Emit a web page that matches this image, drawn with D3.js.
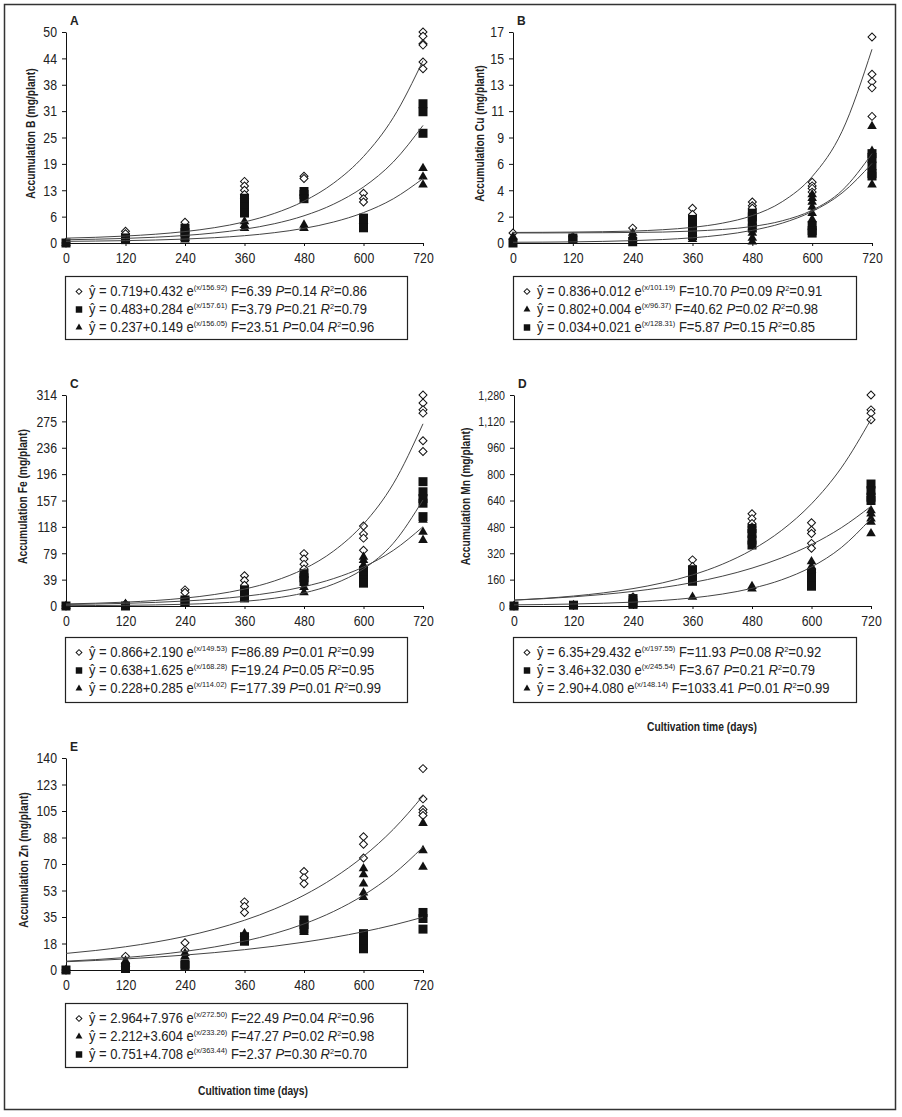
<!DOCTYPE html>
<html>
<head>
<meta charset="utf-8">
<script src="https://cdn.jsdelivr.net/npm/d3@7"></script>
<style>
body { margin: 0; background: #fff; }
svg text { font-family: "Liberation Sans", Arial, sans-serif; fill: #222; }
</style>
</head>
<body>
<svg id="fig" width="902" height="1117"></svg>
<script>
// sampling days and the days where the fitted curves are read
var days = [0, 120, 240, 360, 480, 600, 720];
var fitDays = [0, 60, 120, 180, 240, 300, 360, 420, 480, 540, 600, 660, 720];

// A - boron
var aTicks = ["0", "6", "13", "19", "25", "31", "38", "44", "50"];
var aDiamond = [[0], [2.8, 2.2], [4.9], [14.6, 13.5, 12.5, 11.5, 10.5], [15.8, 15.3], [11.8, 10.5, 9.7], [50, 49, 47.2, 46.9, 42.9, 41.3]];
var aSquare = [[0], [1.2, 0.8], [3.5, 2.5, 1.5], [10.6, 9.5, 8.5, 7.1], [12.2, 11.5, 10.5], [5.9, 4.6, 3.6], [33, 31.1, 26]];
var aTriangle = [[0], [0.9, 0.5], [1.2, 0.8], [5.1, 4.2, 3.5], [4.3, 3.5], [5.2], [17.7, 15.7, 13.8]];
var aDiamondFit = [1.15, 1.35, 1.65, 2.08, 2.71, 3.64, 5.00, 7.00, 9.92, 14.21, 20.49, 29.70, 43.20];
var aSquareFit = [0.77, 0.90, 1.09, 1.37, 1.79, 2.39, 3.27, 4.56, 6.45, 9.22, 13.27, 19.19, 27.86];
var aTriangleFit = [0.39, 0.46, 0.56, 0.71, 0.93, 1.26, 1.73, 2.44, 3.47, 4.98, 7.20, 10.47, 15.27];
var aLegend = [
  ["diamond", "0.719+0.432", "156.92", "6.39", "0.14", "0.86"],
  ["square", "0.483+0.284", "157.61", "3.79", "0.21", "0.79"],
  ["triangle", "0.237+0.149", "156.05", "23.51", "0.04", "0.96"]
];

// B - copper
var bTicks = ["0", "2", "4", "6", "9", "11", "13", "15", "17"];
var bDiamond = [[0.8], [0.5], [1.2], [2.8, 2.3], [3.3, 3.0, 2.8], [4.9, 4.6, 4.4, 4.1], [16.6, 13.6, 13.0, 12.5, 10.2]];
var bTriangle = [[0.5], [0.3], [0.8, 0.6, 0.3], [0.8, 0.3], [1.3, 0.8, 0.4, 0.1], [3.9, 3.6, 3.3, 2.9, 2.4, 1.9], [9.4, 7.4, 4.7]];
var bSquare = [[0], [0.4, 0.3], [0.1], [1.9, 1.5, 1.2, 0.9, 0.6], [2.4, 2.1, 1.7, 1.2], [1.4, 1.0, 0.8], [7.2, 6.8, 6.2, 5.6, 5.4]];
var bDiamondFit = [0.85, 0.86, 0.88, 0.91, 0.96, 1.07, 1.26, 1.60, 2.21, 3.33, 5.35, 9.00, 15.61];
var bTriangleFit = [0.81, 0.81, 0.82, 0.83, 0.85, 0.88, 0.96, 1.09, 1.33, 1.79, 2.64, 4.23, 7.20];
var bSquareFit = [0.06, 0.07, 0.09, 0.13, 0.19, 0.28, 0.42, 0.65, 1.02, 1.60, 2.54, 4.03, 6.41];
var bLegend = [
  ["diamond", "0.836+0.012", "101.19", "10.70", "0.09", "0.91"],
  ["triangle", "0.802+0.004", "96.37", "40.62", "0.02", "0.98"],
  ["square", "0.034+0.021", "128.31", "5.87", "0.15", "0.85"]
];

// C - iron
var cTicks = ["0", "39", "79", "118", "157", "196", "236", "275", "314"];
var cDiamond = [[0], [3], [24, 20], [45, 38, 31], [78, 70, 62, 55], [119, 107, 101, 83], [314, 302, 292, 287, 246, 230]];
var cSquare = [[0], [0], [9, 7], [24, 20, 16, 12], [48, 42, 38], [53, 45, 38, 34], [185, 170, 160, 153, 133]];
var cTriangle = [[0], [3], [4], [12], [34, 28, 20], [73, 68, 61], [128, 110, 98]];
var cDiamondFit = [3.06, 4.14, 5.75, 8.17, 11.77, 17.15, 25.19, 37.20, 55.14, 81.94, 121.97, 181.76, 271.1];
var cSquareFit = [2.26, 2.96, 3.95, 5.37, 7.40, 10.30, 14.44, 20.35, 28.80, 40.86, 58.08, 82.70, 117.9];
var cTriangleFit = [0.51, 0.71, 1.04, 1.61, 2.57, 4.19, 6.93, 11.57, 19.43, 32.72, 55.21, 93.31, 157.8];
var cLegend = [
  ["diamond", "0.866+2.190", "149.53", "86.89", "0.01", "0.99"],
  ["square", "0.638+1.625", "168.28", "19.24", "0.05", "0.95"],
  ["triangle", "0.228+0.285", "114.02", "177.39", "0.01", "0.99"]
];

// D - manganese
var dTicks = ["0", "160", "320", "480", "640", "800", "960", "1,120", "1,280"];
var dDiamond = [[0], [5], [55], [280, 240], [560, 530, 500, 480], [505, 460, 440, 380, 350], [1280, 1190, 1170, 1130]];
var dSquare = [[0], [5], [45, 20, 10], [220, 190, 160, 150], [470, 440, 400, 370], [200, 170, 120], [740, 700, 660, 640]];
var dTriangle = [[0], [5], [10], [55], [120, 105], [270, 240, 220], [580, 560, 530, 510, 440]];
var dDiamondFit = [35.8, 46.2, 60.4, 79.6, 105.5, 140.7, 188.4, 253.1, 340.6, 459.3, 620.0, 837.8, 1132.7];
var dSquareFit = [35.5, 44.4, 55.7, 70.1, 88.6, 112.1, 142.2, 180.7, 229.7, 292.3, 372.3, 474.4, 604.7];
var dTriangleFit = [7.0, 9.0, 12.1, 16.7, 23.5, 33.8, 49.2, 72.4, 107.1, 159.1, 237.1, 354.1, 529.4];
var dLegend = [
  ["diamond", "6.35+29.432", "197.55", "11.93", "0.08", "0.92"],
  ["square", "3.46+32.030", "245.54", "3.67", "0.21", "0.79"],
  ["triangle", "2.90+4.080", "148.14", "1033.41", "0.01", "0.99"]
];

// E - zinc
var eTicks = ["0", "18", "35", "53", "70", "88", "105", "123", "140"];
var eDiamond = [[0], [9], [18, 13], [45, 42, 38], [65, 61, 57], [88, 83, 74], [133, 113, 106, 104, 102]];
var eTriangle = [[0], [6, 4], [11, 9], [24], [25], [67, 63, 57, 51, 48], [97, 79, 68]];
var eSquare = [[0], [2, 1], [4, 3], [22, 19], [33, 30, 27], [24, 19, 14], [38, 34, 27]];
var eDiamondFit = [10.94, 12.90, 15.35, 18.41, 22.21, 26.95, 32.85, 40.22, 49.39, 60.83, 75.08, 92.84, 114.98];
var eTriangleFit = [5.82, 6.87, 8.24, 10.01, 12.30, 15.25, 19.08, 24.03, 30.43, 38.71, 49.41, 63.25, 81.16];
var eSquareFit = [5.46, 6.30, 7.30, 8.48, 9.86, 11.50, 13.43, 15.70, 18.39, 21.55, 25.29, 29.69, 34.89];
var eLegend = [
  ["diamond", "2.964+7.976", "272.50", "22.49", "0.04", "0.96"],
  ["triangle", "2.212+3.604", "233.26", "47.27", "0.02", "0.98"],
  ["square", "0.751+4.708", "363.44", "2.37", "0.30", "0.70"]
];

// panel layout (pixel boxes) built from the arrays above
var panels = [
  {id: "A", title: "Accumulation B (mg/plant)", yMax: 50, ticks: aTicks, tickFont: 15, titleOff: 31,
   left: 66, right: 423, top: 32, bottom: 243,
   series: [["diamond", aDiamond, aDiamondFit], ["triangle", aTriangle, aTriangleFit], ["square", aSquare, aSquareFit]],
   legend: aLegend, box: [65, 276, 342, 63], xTitle: null},
  {id: "B", title: "Accumulation Cu (mg/plant)", yMax: 17, ticks: bTicks, tickFont: 15, titleOff: 29,
   left: 513, right: 872, top: 32, bottom: 243,
   series: [["diamond", bDiamond, bDiamondFit], ["triangle", bTriangle, bTriangleFit], ["square", bSquare, bSquareFit]],
   legend: bLegend, box: [513, 276, 343, 63], xTitle: null},
  {id: "C", title: "Accumulation Fe (mg/plant)", yMax: 314, ticks: cTicks, tickFont: 15, titleOff: 39,
   left: 66, right: 423, top: 395, bottom: 606,
   series: [["diamond", cDiamond, cDiamondFit], ["triangle", cTriangle, cTriangleFit], ["square", cSquare, cSquareFit]],
   legend: cLegend, box: [65, 637, 342, 65], xTitle: null},
  {id: "D", title: "Accumulation Mn (mg/plant)", yMax: 1280, ticks: dTicks, tickFont: 13, titleOff: 44,
   left: 514, right: 871, top: 395, bottom: 606,
   series: [["diamond", dDiamond, dDiamondFit], ["triangle", dTriangle, dTriangleFit], ["square", dSquare, dSquareFit]],
   legend: dLegend, box: [513, 637, 343, 65], xTitle: [702, 731]},
  {id: "E", title: "Accumulation Zn (mg/plant)", yMax: 140, ticks: eTicks, tickFont: 15, titleOff: 38,
   left: 66, right: 423, top: 758, bottom: 970,
   series: [["diamond", eDiamond, eDiamondFit], ["triangle", eTriangle, eTriangleFit], ["square", eSquare, eSquareFit]],
   legend: eLegend, box: [65, 1003, 342, 64], xTitle: [253, 1095]}
];

var svg = d3.select("#fig");

// outer frame round the whole figure
svg.append("rect")
  .attr("x", 4.5).attr("y", 4.5).attr("width", 891).attr("height", 1105)
  .attr("fill", "none").attr("stroke", "#333").attr("stroke-width", 1.5);

// no narrow font installed: squeeze the text horizontally instead
function condense(sel, k) {
  sel.each(function() {
    var t = d3.select(this);
    var x0 = +t.attr("x") || 0;
    var tr = t.attr("transform") || "";
    t.attr("x", x0 / k).attr("transform", tr + " scale(" + k + ",1)");
  });
}

function marker(g, type, cx, cy, scale) {
  var s = scale || 1;
  if (type === "diamond") {
    g.append("path")
      .attr("d", d3.symbol(d3.symbolSquare, 32 * s * s)())
      .attr("transform", "translate(" + cx + "," + cy + ") rotate(45)")
      .attr("fill", "#fff").attr("stroke", "#111").attr("stroke-width", 1);
  } else if (type === "square") {
    g.append("path")
      .attr("d", d3.symbol(d3.symbolSquare, 81 * s * s)())
      .attr("transform", "translate(" + cx + "," + cy + ")")
      .attr("fill", "#111");
  } else {
    g.append("path")
      .attr("d", d3.symbol(d3.symbolTriangle, 40 * s * s)())
      .attr("transform", "translate(" + cx + "," + cy + ")")
      .attr("fill", "#111");
  }
}

function drawPanel(p) {
  var x = d3.scaleLinear().domain([0, 720]).range([p.left, p.right]);
  var y = d3.scaleLinear().domain([0, p.yMax]).range([p.bottom, p.top]);
  var g = svg.append("g").attr("class", "panel-" + p.id);

  // y axis with the rounded labels of the original
  var yAxis = g.append("g")
    .attr("transform", "translate(" + p.left + ",0)")
    .call(d3.axisLeft(y)
      .tickValues(d3.range(9).map(function(i) { return i * p.yMax / 8; }))
      .tickFormat(function(d, i) { return p.ticks[i]; })
      .tickSize(4).tickSizeOuter(0).tickPadding(5));
  yAxis.selectAll("text").style("font-size", p.tickFont + "px").attr("fill", "#222");
  condense(yAxis.selectAll("text"), 0.82);

  var xAxis = g.append("g")
    .attr("transform", "translate(0," + p.bottom + ")")
    .call(d3.axisBottom(x).tickValues(days).tickSize(3).tickSizeOuter(0).tickPadding(6));
  xAxis.selectAll("text").style("font-size", "15px").attr("fill", "#222");
  condense(xAxis.selectAll("text"), 0.82);
  g.selectAll(".domain, .tick line").attr("stroke", "#111");

  // panel letter
  g.append("text")
    .attr("x", p.left + 4).attr("y", p.top - 7)
    .style("font-size", "12px").style("font-weight", "bold")
    .text(p.id);

  // y title
  var yt = g.append("text")
    .attr("transform", "translate(" + (p.left - p.titleOff) + "," + ((p.top + p.bottom) / 2 - 4) + ") rotate(-90)")
    .attr("text-anchor", "middle")
    .style("font-size", "12.5px").style("font-weight", "bold")
    .text(p.title);
  condense(yt, 0.82);

  // observations
  var pts = g.append("g");
  p.series.forEach(function(s) {
    s[1].forEach(function(vals, i) {
      vals.forEach(function(v) { marker(pts, s[0], x(days[i]), y(v)); });
    });
  });

  // fitted curves
  var line = d3.line()
    .x(function(d, i) { return x(fitDays[i]); })
    .y(function(d) { return y(d); })
    .curve(d3.curveMonotoneX);
  p.series.forEach(function(s) {
    g.append("path").datum(s[2])
      .attr("d", line)
      .attr("fill", "none").attr("stroke", "#444").attr("stroke-width", 1);
  });

  // legend box with the regression equations
  var b = p.box;
  g.append("rect")
    .attr("x", b[0] + 0.5).attr("y", b[1] + 0.5).attr("width", b[2]).attr("height", b[3])
    .attr("fill", "#fff").attr("stroke", "#222").attr("stroke-width", 1.2);
  var base = b[1] + 20;
  p.legend.forEach(function(row, k) {
    var by = base + k * 18;
    marker(g, row[0], b[0] + 14, by - 4.5, 0.72);
    var t = g.append("text").attr("x", b[0] + 24).attr("y", by).style("font-size", "14px");
    t.append("tspan").text("\u0177 = " + row[1] + " e");
    t.append("tspan").attr("dy", -6).style("font-size", "8px").text("(x/" + row[2] + ")");
    t.append("tspan").attr("dy", 6).text(" F=" + row[3] + " ");
    t.append("tspan").style("font-style", "italic").text("P");
    t.append("tspan").text("=" + row[4] + " ");
    t.append("tspan").style("font-style", "italic").text("R");
    t.append("tspan").attr("dy", -5).style("font-size", "8px").text("2");
    t.append("tspan").attr("dy", 5).text("=" + row[5]);
    condense(t, 0.93);
  });

  if (p.xTitle) {
    var xt = g.append("text")
      .attr("x", p.xTitle[0]).attr("y", p.xTitle[1])
      .attr("text-anchor", "middle")
      .style("font-size", "12.5px").style("font-weight", "bold")
      .text("Cultivation time (days)");
    condense(xt, 0.82);
  }
}

panels.forEach(drawPanel);
</script>
</body>
</html>
